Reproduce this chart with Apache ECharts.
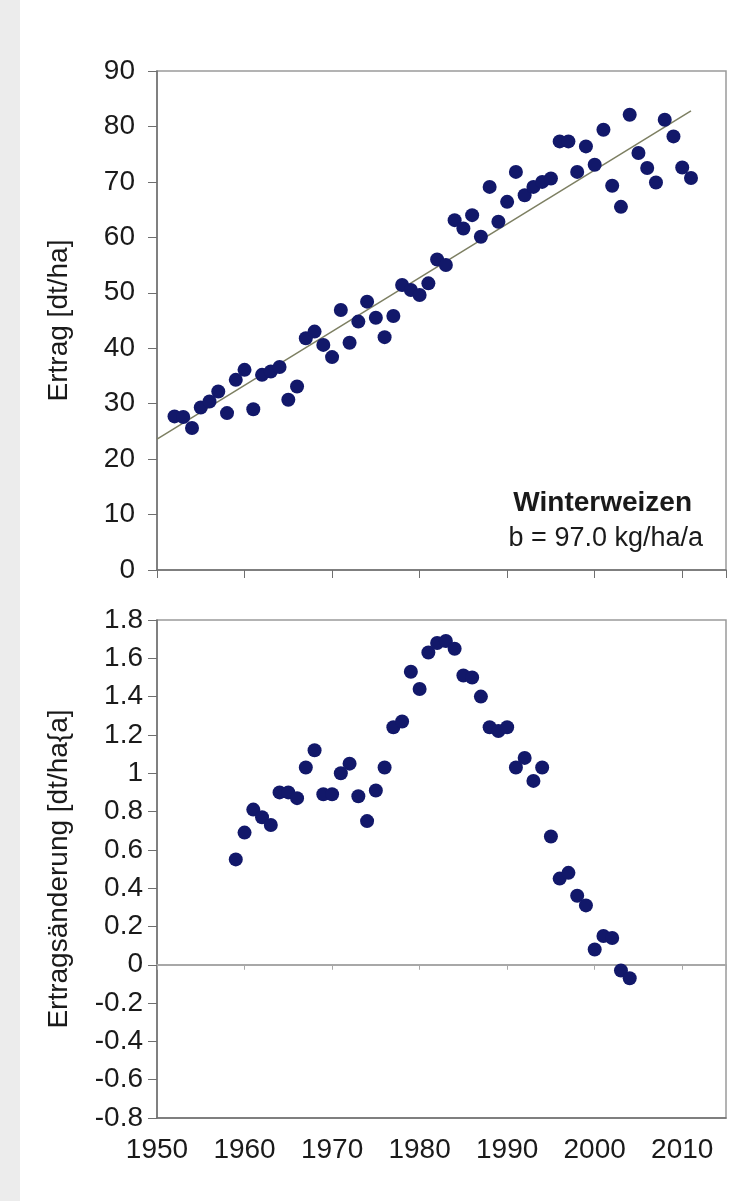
<!DOCTYPE html>
<html>
<head>
<meta charset="utf-8">
<script src="https://cdn.jsdelivr.net/npm/echarts@6/dist/echarts.min.js"></script>
<style>
html,body{margin:0;padding:0;background:#fff;}
#chart{width:740px;height:1201px;}
</style>
</head>
<body>
<div id="chart"></div>
<script>
// ---- data ----
const yieldYears = [1952,1953,1954,1955,1956,1957,1958,1959,1960,1961,1962,1963,1964,1965,1966,1967,1968,1969,1970,1971,1972,1973,1974,1975,1976,1977,1978,1979,1980,1981,1982,1983,1984,1985,1986,1987,1988,1989,1990,1991,1992,1993,1994,1995,1996,1997,1998,1999,2000,2001,2002,2003,2004,2005,2006,2007,2008,2009,2010,2011];
const yieldValues = [27.7,27.6,25.6,29.3,30.4,32.2,28.3,34.3,36.1,29.0,35.2,35.8,36.6,30.7,33.1,41.8,43.0,40.6,38.4,46.9,41.0,44.8,48.4,45.5,42.0,45.8,51.4,50.5,49.6,51.7,56.0,55.0,63.1,61.6,64.0,60.1,69.1,62.8,66.4,71.8,67.6,69.1,70.0,70.6,77.3,77.3,71.8,76.4,73.1,79.4,69.3,65.5,82.1,75.2,72.5,69.9,81.2,78.2,72.6,70.7];
const trendYears = [1950, 2011];
const trendValues = [23.6, 82.8];

const changeYears = [1959,1960,1961,1962,1963,1964,1965,1966,1967,1968,1969,1970,1971,1972,1973,1974,1975,1976,1977,1978,1979,1980,1981,1982,1983,1984,1985,1986,1987,1988,1989,1990,1991,1992,1993,1994,1995,1996,1997,1998,1999,2000,2001,2002,2003,2004];
const changeValues = [0.55,0.69,0.81,0.77,0.73,0.90,0.90,0.87,1.03,1.12,0.89,0.89,1.00,1.05,0.88,0.75,0.91,1.03,1.24,1.27,1.53,1.44,1.63,1.68,1.69,1.65,1.51,1.50,1.40,1.24,1.22,1.24,1.03,1.08,0.96,1.03,0.67,0.45,0.48,0.36,0.31,0.08,0.15,0.14,-0.03,-0.07];

const cropName = 'Winterweizen';
const slopeText = 'b = 97.0 kg/ha/a';
const topYTitle = 'Ertrag [dt/ha]';
const bottomYTitle = 'Ertragsänderung [dt/ha{a]';

// ---- chart ----
const FONT = "'Liberation Sans', Arial, sans-serif";
const DOT = '#12186a';
const AXC = '#6f6f6f';
const FS = 28;

const zip = (a, b) => a.map((v, i) => [v, b[i]]);

const chart = echarts.init(document.getElementById('chart'), null, {renderer: 'canvas'});
chart.setOption({
  animation: false,
  backgroundColor: '#ffffff',
  textStyle: {fontFamily: FONT},
  grid: [
    {left: 157, right: 14, top: 71, height: 499, show: true, borderColor: '#9a9a9a', borderWidth: 1.5, backgroundColor: 'transparent'},
    {left: 157, right: 14, top: 620, height: 498, show: true, borderColor: '#9a9a9a', borderWidth: 1.5, backgroundColor: 'transparent'}
  ],
  xAxis: [
    {gridIndex: 0, type: 'value', min: 1950, max: 2015, interval: 10,
     axisLine: {show: true, onZero: false, lineStyle: {color: AXC, width: 1.5}},
     axisTick: {show: true, length: 8, lineStyle: {color: AXC}},
     axisLabel: {show: false}, splitLine: {show: false}},
    {gridIndex: 1, type: 'value', min: 1950, max: 2015, interval: 10, position: 'bottom',
     axisLine: {show: true, onZero: false, lineStyle: {color: AXC, width: 1.5}},
     axisTick: {show: false},
     axisLabel: {show: true, fontSize: FS, color: '#1a1a1a', fontFamily: FONT, margin: 18,
       formatter: v => String(v)},
     splitLine: {show: false}},
    {gridIndex: 1, type: 'value', min: 1950, max: 2015, interval: 10, position: 'bottom',
     axisLine: {show: true, onZero: true, lineStyle: {color: '#a8a8a8', width: 2}},
     axisTick: {show: true, length: 5, lineStyle: {color: '#a8a8a8'}},
     axisLabel: {show: false}, splitLine: {show: false}}
  ],
  yAxis: [
    {gridIndex: 0, type: 'value', min: 0, max: 90, interval: 10,
     name: topYTitle, nameLocation: 'middle', nameGap: 84,
     nameTextStyle: {fontSize: FS, color: '#1a1a1a', fontFamily: FONT},
     axisLine: {show: true, lineStyle: {color: AXC, width: 1.5}},
     axisTick: {show: true, length: 9, lineStyle: {color: AXC}},
     axisLabel: {fontSize: FS, color: '#1a1a1a', fontFamily: FONT, margin: 22},
     splitLine: {show: false}},
    {gridIndex: 1, type: 'value', min: -0.8, max: 1.8, interval: 0.2,
     name: bottomYTitle, nameLocation: 'middle', nameGap: 84,
     nameTextStyle: {fontSize: FS, color: '#1a1a1a', fontFamily: FONT},
     axisLine: {show: true, lineStyle: {color: AXC, width: 1.5}},
     axisTick: {show: true, length: 9, lineStyle: {color: AXC}},
     axisLabel: {fontSize: FS, color: '#1a1a1a', fontFamily: FONT, margin: 14,
       formatter: v => String(+(+v).toFixed(1))},
     splitLine: {show: false}}
  ],
  graphic: [
    {type: 'rect', left: 0, top: 0, shape: {width: 20, height: 1201}, style: {fill: '#ececec'}, z: -10},
    {type: 'text', right: 740 - 692, top: 489, style: {text: cropName, font: "bold 28px 'Liberation Sans', Arial, sans-serif", fill: '#1a1a1a'}},
    {type: 'text', right: 740 - 703, top: 525, style: {text: slopeText, font: "27px 'Liberation Sans', Arial, sans-serif", fill: '#1a1a1a'}}
  ],
  series: [
    {type: 'line', xAxisIndex: 0, yAxisIndex: 0, data: zip(trendYears, trendValues),
     symbol: 'none', lineStyle: {color: '#7d7f62', width: 1.5}, z: 3, silent: true},
    {type: 'scatter', xAxisIndex: 0, yAxisIndex: 0, data: zip(yieldYears, yieldValues),
     symbolSize: 14, itemStyle: {color: DOT, opacity: 1}, z: 4},
    {type: 'scatter', xAxisIndex: 1, yAxisIndex: 1, data: zip(changeYears, changeValues),
     symbolSize: 14, itemStyle: {color: DOT, opacity: 1}, z: 4}
  ]
});
</script>
</body>
</html>
